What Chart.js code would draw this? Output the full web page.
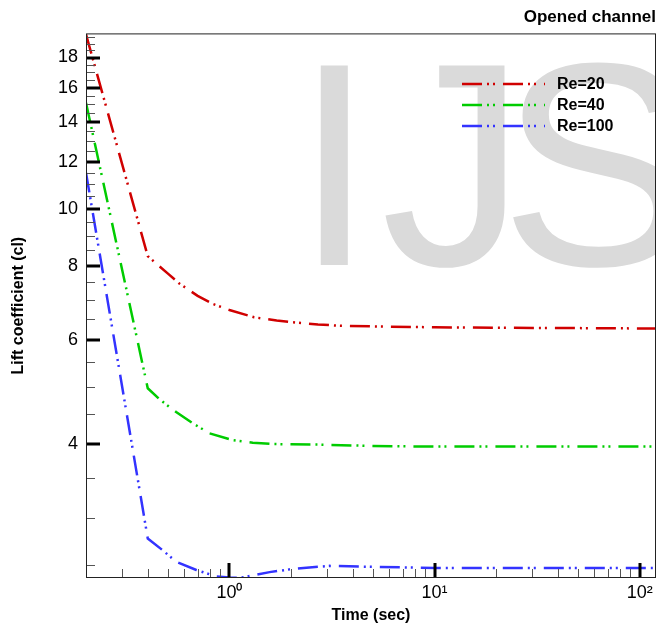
<!DOCTYPE html>
<html>
<head>
<meta charset="utf-8">
<script src="https://cdn.jsdelivr.net/npm/chart.js@4.4.1/dist/chart.umd.min.js"></script>
<style>
html, body { margin: 0; padding: 0; background: #fff; }
</style>
</head>
<body>
<canvas id="chart" width="657" height="625"></canvas>
<script>
// values (log-log)
var re20Time = [0.2, 0.4, 0.5, 0.57, 0.7, 0.83, 1.0, 1.32, 1.7, 2.1, 2.7, 3.4, 5.4, 10, 20, 50, 120];
var re20Lift = [19.7, 8.31, 7.77, 7.47, 7.12, 6.90, 6.74, 6.55, 6.47, 6.42, 6.37, 6.34, 6.32, 6.30, 6.29, 6.28, 6.27];

var re40Time = [0.2, 0.4, 0.46, 0.55, 0.66, 0.8, 1.04, 1.3, 1.63, 2.85, 5, 10, 30, 120];
var re40Lift = [15.1, 4.97, 4.75, 4.53, 4.34, 4.17, 4.06, 4.02, 4.0, 3.99, 3.97, 3.96, 3.96, 3.96];

var re100Time = [0.2, 0.4, 0.47, 0.55, 0.69, 0.86, 1.0, 1.12, 1.3, 1.57, 2.04, 3.07, 5, 10, 30, 120];
var re100Lift = [11.5, 2.77, 2.65, 2.53, 2.45, 2.39, 2.38, 2.375, 2.40, 2.43, 2.46, 2.49, 2.48, 2.47, 2.47, 2.47];

var seriesNames = ['Re=20', 'Re=40', 'Re=100'];

var xTickValues = [1, 10, 100];
var xTickLabels = ['10\u2070', '10\u00B9', '10\u00B2'];
var xMinorTicks = [0.3, 0.4, 0.5, 0.6, 0.7, 0.8, 0.9, 2, 3, 4, 5, 6, 7, 8, 9, 20, 30, 40, 50, 60, 70, 80, 90];
var yTickValues = [4, 6, 8, 10, 12, 14, 16, 18];
var yMinorTicks = [2.5, 3, 3.5, 4.5, 5, 5.5, 6.5, 7, 7.5, 8.5, 9, 9.5, 10.5, 11, 11.5, 12.5, 13, 13.5,
                   14.5, 15, 15.5, 16.5, 17, 17.5, 18.5, 19, 19.5];

function pts(xs, ys) {
    return xs.map(function(x, i){ return {x: x, y: ys[i]}; });
}

var FONT = '"Liberation Sans", Arial, sans-serif';
Chart.defaults.font.family = FONT;
Chart.defaults.color = '#000';

var dash = [20, 5, 2, 4, 2, 8];

var decor = {
    id: 'decor',
    beforeDatasetsDraw: function(chart){
        var ctx = chart.ctx, a = chart.chartArea;
        ctx.save();
        ctx.beginPath();
        ctx.rect(a.left, a.top, a.right - a.left, a.bottom - a.top);
        ctx.clip();
        ctx.fillStyle = '#dadada';
        ctx.font = '290px ' + FONT;
        ctx.textBaseline = 'alphabetic';
        ctx.fillText('I', 294, 265);
        ctx.fillText('J', 381, 265);
        ctx.fillText('S', 500, 265);
        ctx.restore();
    },
    afterDatasetsDraw: function(chart){
        var ctx = chart.ctx, a = chart.chartArea;
        var xs = chart.scales.x, ys = chart.scales.y;
        ctx.save();
        // minor ticks
        ctx.strokeStyle = '#555';
        ctx.lineWidth = 1;
        ctx.beginPath();
        yMinorTicks.forEach(function(v){
            var y = Math.round(ys.getPixelForValue(v)) + 0.5;
            ctx.moveTo(a.left, y); ctx.lineTo(a.left + 9, y);
        });
        xMinorTicks.forEach(function(v){
            var x = Math.round(xs.getPixelForValue(v)) + 0.5;
            ctx.moveTo(x, a.bottom); ctx.lineTo(x, a.bottom - 9);
        });
        ctx.stroke();
        // major ticks
        ctx.strokeStyle = '#000';
        ctx.lineWidth = 3;
        ctx.beginPath();
        yTickValues.forEach(function(v){
            var y = Math.round(ys.getPixelForValue(v));
            ctx.moveTo(a.left, y); ctx.lineTo(a.left + 14, y);
        });
        xTickValues.forEach(function(v){
            var x = Math.round(xs.getPixelForValue(v));
            ctx.moveTo(x, a.bottom); ctx.lineTo(x, a.bottom - 15);
        });
        ctx.stroke();
        // frame
        ctx.lineWidth = 1;
        ctx.strokeStyle = '#222';
        ctx.strokeRect(a.left + 0.5, a.top + 0.5, a.right - a.left - 1, a.bottom - a.top - 1);
        // legend
        var ly = [84, 105, 126];
        chart.data.datasets.forEach(function(ds, i){
            ctx.strokeStyle = ds.borderColor;
            ctx.lineWidth = ds.borderWidth;
            ctx.setLineDash(ds.borderDash);
            ctx.beginPath();
            ctx.moveTo(462, ly[i]); ctx.lineTo(545, ly[i]);
            ctx.stroke();
            ctx.setLineDash([]);
            ctx.fillStyle = '#000';
            ctx.font = 'bold 16px ' + FONT;
            ctx.textBaseline = 'middle';
            ctx.textAlign = 'left';
            ctx.fillText(ds.label, 557, ly[i] + 1);
        });
        ctx.restore();
    }
};

function line(label, xs, ys, color) {
    return {
        label: label,
        data: pts(xs, ys),
        borderColor: color,
        backgroundColor: color,
        borderWidth: 2.5,
        borderDash: dash,
        pointRadius: 0,
        tension: 0,
        fill: false
    };
}

var ctx = document.getElementById('chart').getContext('2d');
var myChart = new Chart(ctx, {
    type: 'line',
    data: {
        datasets: [
            line(seriesNames[0], re20Time, re20Lift, '#d00000'),
            line(seriesNames[1], re40Time, re40Lift, '#00cc00'),
            line(seriesNames[2], re100Time, re100Lift, '#3333ff')
        ]
    },
    options: {
        responsive: false,
        animation: false,
        layout: { padding: { left: 0, right: 1, top: 0, bottom: 0 } },
        plugins: {
            legend: { display: false },
            tooltip: { enabled: false },
            title: {
                display: true,
                text: 'Opened channel',
                align: 'end',
                color: '#000',
                font: { size: 17, weight: 'bold' },
                padding: { top: 7, bottom: 6 }
            }
        },
        scales: {
            x: {
                type: 'logarithmic',
                min: 0.2,
                max: 120,
                grid: { display: false, drawTicks: false },
                border: { display: false },
                ticks: {
                    font: { size: 18 },
                    color: '#000',
                    padding: 4,
                    maxRotation: 0,
                    autoSkip: false,
                    callback: function(v, i){ return xTickLabels[i]; }
                },
                afterBuildTicks: function(s){
                    s.ticks = xTickValues.map(function(v){ return {value: v}; });
                },
                afterFit: function(s){
                    s.height = 47;
                    s.paddingLeft = 0;
                    s.paddingRight = 0;
                },
                title: {
                    display: true,
                    text: 'Time (sec)',
                    color: '#000',
                    font: { size: 16, weight: 'bold' },
                    padding: { top: 5, bottom: 0 }
                }
            },
            y: {
                type: 'logarithmic',
                min: 2.375,
                max: 19.77,
                grid: { display: false, drawTicks: false },
                border: { display: false },
                ticks: {
                    font: { size: 18 },
                    color: '#000',
                    padding: 8,
                    autoSkip: false,
                    callback: function(v){ return String(v); }
                },
                afterBuildTicks: function(s){
                    s.ticks = yTickValues.map(function(v){ return {value: v}; });
                },
                afterFit: function(s){
                    s.width = 86;
                    s.paddingTop = 0;
                    s.paddingBottom = 0;
                },
                title: {
                    display: true,
                    text: 'Lift coefficient (cl)',
                    color: '#000',
                    font: { size: 16, weight: 'bold' },
                    padding: { top: 9, bottom: 0 }
                }
            }
        }
    },
    plugins: [decor]
});
</script>
</body>
</html>
